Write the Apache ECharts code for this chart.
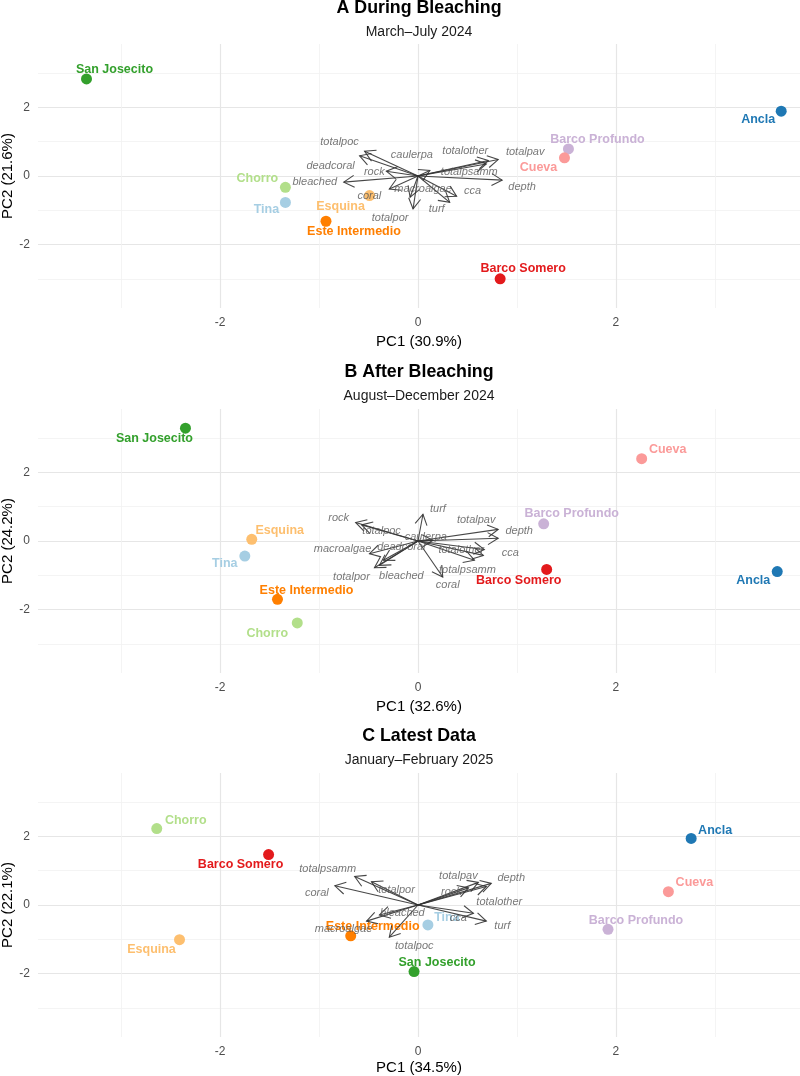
<!DOCTYPE html>
<html>
<head>
<meta charset="utf-8">
<title>PCA biplots by period</title>
<script src="https://cdn.jsdelivr.net/npm/echarts@6/dist/echarts.min.js"></script>
<style>
  html, body { margin: 0; padding: 0; background: #fff; }
  #chart { width: 800px; height: 1076px; }
</style>
</head>
<body>
<div id="chart"></div>
<script>
// sites, same order in every period
const sites = ['Ancla', 'Barco Profundo', 'Barco Somero', 'Chorro', 'Cueva', 'Este Intermedio', 'Esquina', 'San Josecito', 'Tina'];

// A - during bleaching
const duringPC1 = [3.67, 1.52, 0.83, -1.34, 1.48, -0.93, -0.49, -3.35, -1.34];
const duringPC2 = [1.89, 0.79, -3.00, -0.33, 0.53, -1.32, -0.57, 2.83, -0.77];
const duringVars = ['totalpoc', 'deadcoral', 'rock', 'bleached', 'caulerpa', 'totalother', 'totalpav', 'totalpsamm', 'depth', 'cca', 'turf', 'totalpor', 'coral', 'macroalgae'];
const duringLoad1 = [-0.54, -0.59, -0.32, -0.75, 0.12, 0.71, 0.81, 0.69, 0.85, 0.39, 0.32, -0.05, -0.29, -0.08];
const duringLoad2 = [0.72, 0.59, 0.14, -0.18, 0.16, 0.45, 0.48, 0.35, -0.12, -0.59, -0.77, -0.96, -0.38, -0.62];

// B - after bleaching
const afterPC1 = [3.63, 1.27, 1.30, -1.22, 2.26, -1.42, -1.68, -2.35, -1.75];
const afterPC2 = [-0.89, 0.50, -0.83, -2.39, 2.40, -1.70, 0.05, 3.29, -0.44];
const afterVars = ['turf', 'rock', 'totalpoc', 'totalpav', 'depth', 'caulerpa', 'totalother', 'cca', 'totalpsamm', 'macroalgae', 'deadcoral', 'totalpor', 'bleached', 'coral'];
const afterLoad1 = [0.05, -0.63, -0.57, 0.81, 0.81, 0.15, 0.67, 0.66, 0.57, -0.49, -0.35, -0.44, -0.39, 0.25];
const afterLoad2 = [0.78, 0.54, 0.47, 0.34, 0.08, 0.02, -0.25, -0.42, -0.56, -0.37, -0.56, -0.78, -0.71, -1.05];

// C - latest data
const latestPC1 = [2.76, 1.92, -1.51, -2.64, 2.53, -0.68, -2.41, -0.04, 0.10];
const latestPC2 = [1.94, -0.71, 1.47, 2.23, 0.39, -0.90, -1.01, -1.94, -0.58];
const latestVars = ['totalpsamm', 'coral', 'totalpor', 'totalpav', 'depth', 'rock', 'totalother', 'cca', 'turf', 'bleached', 'macroalgae', 'totalpoc'];
const latestLoad1 = [-0.64, -0.84, -0.47, 0.61, 0.74, 0.51, 0.69, 0.56, 0.69, -0.39, -0.52, -0.29];
const latestLoad2 = [0.83, 0.56, 0.68, 0.66, 0.63, 0.50, 0.54, -0.24, -0.47, -0.29, -0.47, -0.94];

const panelTitles = ['A During Bleaching', 'B After Bleaching', 'C Latest Data'];
const panelSubtitles = ['March–July 2024', 'August–December 2024', 'January–February 2025'];
const xTitles = ['PC1 (30.9%)', 'PC1 (32.6%)', 'PC1 (34.5%)'];
const yTitles = ['PC2 (21.6%)', 'PC2 (24.2%)', 'PC2 (22.1%)'];

// ---- styling / layout ----
const FONT = '"Liberation Sans", Arial, Helvetica, sans-serif';
const siteColor = {
  'Ancla': '#1F78B4', 'Barco Profundo': '#CAB2D6', 'Barco Somero': '#E31A1C',
  'Chorro': '#B2DF8A', 'Cueva': '#FB9A99', 'Este Intermedio': '#FF7F00',
  'Esquina': '#FDBF6F', 'San Josecito': '#33A02C', 'Tina': '#A6CEE3'
};

// label nudges in px (label centre minus point), one map per panel
const siteNudge = [
  { 'Ancla': [-23, 8], 'Barco Profundo': [29, -9], 'Barco Somero': [23, -10], 'Chorro': [-28, -9], 'Cueva': [-26, 10],
    'Este Intermedio': [28, 10], 'Esquina': [-29, 11], 'San Josecito': [28, -9], 'Tina': [-19, 7] },
  { 'Ancla': [-24, 9], 'Barco Profundo': [28, -10], 'Barco Somero': [-28, 11], 'Chorro': [-30, 11], 'Cueva': [26, -9],
    'Este Intermedio': [29, -9], 'Esquina': [28, -9], 'San Josecito': [-31, 10], 'Tina': [-20, 7] },
  { 'Ancla': [24, -8], 'Barco Profundo': [28, -9], 'Barco Somero': [-28, 10], 'Chorro': [29, -8], 'Cueva': [26, -9],
    'Este Intermedio': [22, -9], 'Esquina': [-28, 10], 'San Josecito': [23, -9], 'Tina': [19, -7] }
];
const varNudge = [
  { totalpoc: [-25, -9], deadcoral: [-29, 10], rock: [-12, 1], bleached: [-29, 0], caulerpa: [-18, -16], totalother: [-23, -10],
    totalpav: [27, -8], totalpsamm: [-17, 8], depth: [20, 7], cca: [16, -5], turf: [-13, 7], totalpor: [-23, 9], coral: [-20, 7], macroalgae: [13, -8] },
  { turf: [15, -5], rock: [-17, -5], totalpoc: [20, 6], totalpav: [-22, -9], depth: [21, -7], caulerpa: [-7, -3], totalother: [-23, 0],
    cca: [27, -2], totalpsamm: [-7, 10], macroalgae: [-27, -5], deadcoral: [18, -13], totalpor: [-23, 9], bleached: [22, 11], coral: [5, 8] },
  { totalpsamm: [-27, -8], coral: [-18, 7], totalpor: [25, 8], totalpav: [-20, -6], depth: [20, -5], rock: [-17, 4], totalother: [13, 15],
    cca: [-15, 5], turf: [16, 5], bleached: [23, -2], macroalgae: [-23, 8], totalpoc: [25, 9] }
];

const panelTop = [44, 409, 773];
const titleTop = [-1, 363, 727];
const xNameGap = [26, 26, 23];
const PLOT_H = 264;

const scores = [[duringPC1, duringPC2], [afterPC1, afterPC2], [latestPC1, latestPC2]];
const loadings = [[duringVars, duringLoad1, duringLoad2], [afterVars, afterLoad1, afterLoad2], [latestVars, latestLoad1, latestLoad2]];

function renderArrow(params, api) {
  const o = api.coord([0, 0]);
  const t = api.coord([api.value(0), api.value(1)]);
  const ang = Math.atan2(t[1] - o[1], t[0] - o[0]);
  const len = 12, spread = Math.PI / 6;
  const h1 = [t[0] - len * Math.cos(ang - spread), t[1] - len * Math.sin(ang - spread)];
  const h2 = [t[0] - len * Math.cos(ang + spread), t[1] - len * Math.sin(ang + spread)];
  const stroke = { stroke: '#333', lineWidth: 1.1, opacity: 0.9, fill: null };
  return {
    type: 'group',
    children: [
      { type: 'line', shape: { x1: o[0], y1: o[1], x2: t[0], y2: t[1] }, style: stroke },
      { type: 'polyline', shape: { points: [h1, t, h2] }, style: stroke }
    ]
  };
}

const grid = [], xAxis = [], yAxis = [], series = [], title = [];

for (let i = 0; i < 3; i++) {
  title.push({
    text: panelTitles[i], left: 419, top: titleTop[i], textAlign: 'center', padding: 0,
    textStyle: { fontSize: 17.8, fontWeight: 'bold', color: '#000', fontFamily: FONT }
  });
  title.push({
    text: panelSubtitles[i], left: 419, top: titleTop[i] + 26, textAlign: 'center', padding: 0,
    textStyle: { fontSize: 14, fontWeight: 'normal', color: '#1a1a1a', fontFamily: FONT }
  });

  grid.push({ left: 38, right: 0, top: panelTop[i], height: PLOT_H, outerBoundsMode: 'none', containLabel: false });

  const axisCommon = {
    gridIndex: i,
    type: 'value',
    splitNumber: 4,
    nameLocation: 'middle',
    nameMoveOverlap: false,
    nameTextStyle: { fontSize: 15, color: '#000', fontFamily: FONT },
    axisLine: { show: false },
    axisTick: { show: false },
    axisLabel: { color: '#4d4d4d', fontSize: 12, fontFamily: FONT, showMinLabel: false, showMaxLabel: false },
    splitLine: { show: true, showMinLine: false, showMaxLine: false, lineStyle: { color: '#e6e6e6', width: 1.2 } },
    minorTick: { show: false, splitNumber: 2 },
    minorSplitLine: { show: true, lineStyle: { color: '#f1f1f1', width: 0.8 } }
  };
  xAxis.push(Object.assign({}, axisCommon, {
    min: -3.84, max: 3.86, name: xTitles[i], nameGap: xNameGap[i],
    axisLabel: Object.assign({}, axisCommon.axisLabel, { margin: 9 })
  }));
  yAxis.push(Object.assign({}, axisCommon, {
    min: -3.85, max: 3.85, name: yTitles[i], nameGap: 23,
    axisLabel: Object.assign({}, axisCommon.axisLabel, { margin: 8 })
  }));

  const [pc1, pc2] = scores[i];
  series.push({
    type: 'scatter',
    xAxisIndex: i, yAxisIndex: i,
    symbolSize: 11,
    z: 3,
    data: sites.map((s, k) => ({
      name: s,
      value: [pc1[k], pc2[k]],
      itemStyle: { color: siteColor[s], opacity: 1 },
      label: { color: siteColor[s], offset: siteNudge[i][s] }
    })),
    label: {
      show: true, position: 'inside', formatter: '{b}',
      fontSize: 12.5, fontWeight: 'bold', fontFamily: FONT
    }
  });

  const [vars, l1, l2] = loadings[i];
  series.push({
    type: 'custom',
    coordinateSystem: 'cartesian2d',
    xAxisIndex: i, yAxisIndex: i,
    z: 4,
    silent: true,
    renderItem: renderArrow,
    data: vars.map((v, k) => [l1[k], l2[k]])
  });
  series.push({
    type: 'scatter',
    xAxisIndex: i, yAxisIndex: i,
    symbolSize: 0,
    z: 5,
    silent: true,
    data: vars.map((v, k) => ({ name: v, value: [l1[k], l2[k]], label: { offset: varNudge[i][v] } })),
    label: {
      show: true, position: 'inside', formatter: '{b}',
      fontSize: 11, fontStyle: 'italic', color: '#555', fontFamily: FONT
    }
  });
}

const chart = echarts.init(document.getElementById('chart'));
chart.setOption({
  animation: false,
  backgroundColor: '#fff',
  textStyle: { fontFamily: FONT },
  title: title,
  grid: grid,
  xAxis: xAxis,
  yAxis: yAxis,
  series: series
});
</script>
</body>
</html>
